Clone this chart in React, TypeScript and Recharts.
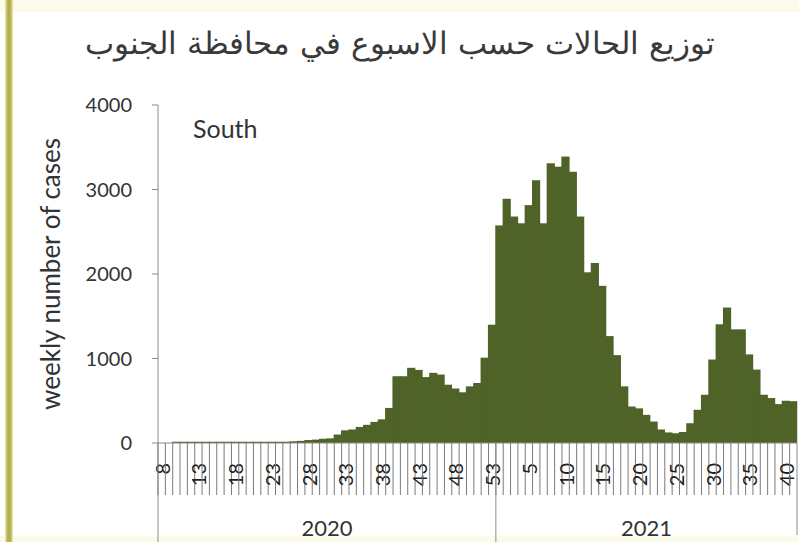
import React from 'react';
import { BarChart, Bar, XAxis, YAxis } from 'recharts';

// weekly cases, South governorate
const weeks2020 = [8, 9, 10, 11, 12, 13, 14, 15, 16, 17, 18, 19, 20, 21, 22, 23, 24, 25, 26, 27, 28, 29, 30, 31, 32, 33, 34, 35, 36, 37, 38, 39, 40, 41, 42, 43, 44, 45, 46, 47, 48, 49, 50, 51, 52, 53];
const cases2020 = [0, 0, 15, 15, 15, 15, 15, 15, 15, 15, 15, 15, 15, 15, 15, 15, 15, 15, 20, 25, 35, 40, 50, 55, 100, 150, 160, 190, 215, 250, 280, 415, 790, 790, 890, 865, 780, 830, 810, 690, 645, 600, 670, 710, 1010, 1400];
const weeks2021 = [1, 2, 3, 4, 5, 6, 7, 8, 9, 10, 11, 12, 13, 14, 15, 16, 17, 18, 19, 20, 21, 22, 23, 24, 25, 26, 27, 28, 29, 30, 31, 32, 33, 34, 35, 36, 37, 38, 39, 40, 41];
const cases2021 = [2575, 2890, 2680, 2600, 2815, 3110, 2600, 3310, 3270, 3390, 3210, 2680, 2020, 2130, 1860, 1265, 1040, 670, 432, 410, 333, 254, 160, 125, 115, 130, 234, 393, 571, 988, 1405, 1603, 1345, 1345, 1048, 869, 571, 532, 460, 500, 495];
const tickLabels2020 = [8, 13, 18, 23, 28, 33, 38, 43, 48, 53];
const tickLabels2021 = [5, 10, 15, 20, 25, 30, 35, 40];
const yTicks = [0, 1000, 2000, 3000, 4000];

const rows = [
  ...weeks2020.map((w, i) => ({ key: `2020-${w}`, year: 2020, week: w, cases: cases2020[i] })),
  ...weeks2021.map((w, i) => ({ key: `2021-${w}`, year: 2021, week: w, cases: cases2021[i] })),
];

const W = 799;
const H = 542;
const M = { top: 105, right: 2, bottom: 0, left: 45 };
const Y_AXIS_W = 113;
const X_AXIS_H = 99;
const PLOT_W = W - M.left - Y_AXIS_W - M.right;
const BAND = PLOT_W / rows.length;
const GREEN = '#4f6228';
const AXIS = '#8a8a8a';
const TEXT = '#333';
const FONT = 'Lato, "Open Sans", sans-serif';

function WeekTick(props: any) {
  const { x, y, payload } = props;
  const i = payload.index;
  const row = rows[i];
  if (!row) return null;
  const half = BAND / 2;
  const labels = row.year === 2020 ? tickLabels2020 : tickLabels2021;
  const first = i === 0 || rows[i - 1].year !== row.year;
  const groupLen = rows.filter(r => r.year === row.year).length;
  const last = i === rows.length - 1;
  return <g>
      <line x1={x - half} x2={x - half} y1={y} y2={y + 52} stroke="#7a7a7a" strokeWidth={1} />
      {last && <line x1={x + half} x2={x + half} y1={y} y2={y + 92} stroke={AXIS} strokeWidth={1} />}
      {labels.includes(row.week) && <text transform={`translate(${x},${y + 20}) rotate(-90)`} textAnchor="end" dominantBaseline="central" fontSize={20} fill="#1e1e1e" fontFamily={FONT}>
          {row.week}
        </text>}
      {first && <line x1={x - half} x2={x - half} y1={y} y2={H} stroke={AXIS} strokeWidth={1} />}
      {first && <text x={x - half + groupLen * BAND / 2} y={y + 93} textAnchor="middle" fontSize={22} fill={TEXT} fontFamily={FONT}>
          {row.year}
        </text>}
    </g>;
}

// solid block: widen each bar a hair so neighbours overlap and no seams show
function SolidBar(props: any) {
  const { x, y, width, height } = props;
  if (!height || height <= 0) return null;
  return <rect x={x - 0.6} y={y} width={width + 1.2} height={height} fill={GREEN} />;
}

export default function App() {
  return <div style={{
    position: 'fixed',
    left: 0,
    top: 0,
    width: W,
    height: H,
    overflow: 'hidden',
    background: '#fff'
  }}>
      <div style={{ position: 'absolute', left: 0, top: 0, width: W, height: 12, background: '#fcfae8' }} />
      <div style={{ position: 'absolute', left: 0, bottom: 0, width: W, height: 6, background: '#fcfae8' }} />
      <div style={{
      position: 'absolute',
      left: 5,
      top: 0,
      width: 8,
      height: H,
      background: 'linear-gradient(to right, #eeeab0, #b4ae4c 35%, #b4ae4c 65%, #eeeab0)'
    }} />
      <div style={{ position: 'absolute', left: 0, top: 0 }}>
        <BarChart width={W} height={H} data={rows} margin={M} barCategoryGap={0}>
          <YAxis domain={[0, 4000]} ticks={yTicks} width={Y_AXIS_W} tickSize={6} tickMargin={20} axisLine={{ stroke: AXIS }} tickLine={{ stroke: AXIS }} tick={{ fontSize: 20, fill: TEXT, fontFamily: FONT }} label={{
          value: 'weekly number of cases',
          angle: -90,
          position: 'insideLeft',
          offset: 6,
          style: { textAnchor: 'middle', fontSize: 26, fill: TEXT, fontFamily: FONT }
        }} />
          <XAxis dataKey="key" interval={0} height={X_AXIS_H} tickSize={0} tickMargin={0} tickLine={false} axisLine={{ stroke: AXIS }} tick={<WeekTick />} />
          <Bar dataKey="cases" fill={GREEN} shape={<SolidBar />} isAnimationActive={false} />
        </BarChart>
      </div>
      <svg width={W} height={H} style={{ position: 'absolute', left: 0, top: 0, pointerEvents: 'none' }}>
        <text x={400} y={54} textAnchor="middle" direction="rtl" fontSize={31} fontWeight={300} fill="#3a3a3a" fontFamily='"DejaVu Sans", sans-serif'>
          توزيع الحالات حسب الاسبوع في محافظة الجنوب
        </text>
        <text x={193} y={138} fontSize={25} fill={TEXT} fontFamily={FONT}>South</text>
      </svg>
    </div>;
}
